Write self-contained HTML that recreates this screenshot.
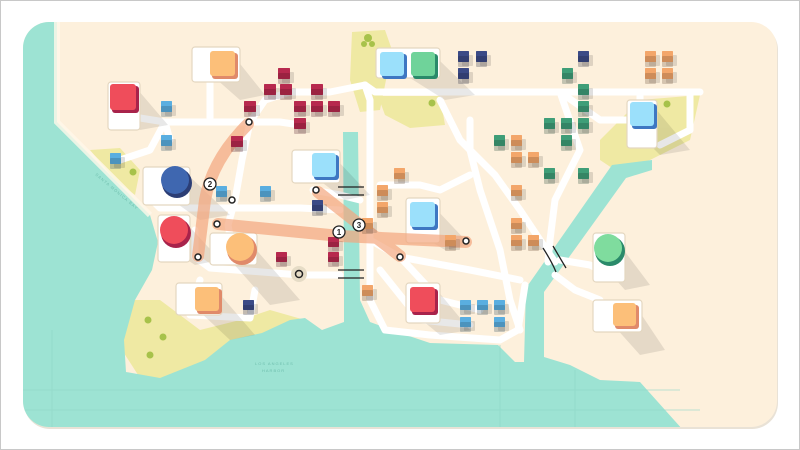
<!DOCTYPE html>
<html><head><meta charset="utf-8"><style>
html,body{margin:0;padding:0;background:#fff}
svg{display:block}
</style></head><body>
<svg width="800" height="450" viewBox="0 0 800 450" xmlns="http://www.w3.org/2000/svg" xmlns:xlink="http://www.w3.org/1999/xlink" font-family="Liberation Sans, sans-serif">
<rect x="0.5" y="0.5" width="799" height="449" fill="#fff" stroke="#c8c8c8"/>
<defs>
<clipPath id="map"><rect x="23" y="22" width="754" height="405" rx="26"/></clipPath>
</defs>
<rect x="24" y="24" width="754" height="405" rx="26" fill="#e9e2d6"/>
<g clip-path="url(#map)">
<rect x="23" y="22" width="754" height="405" fill="#fdf0dc"/>
<g fill="#efe9a3">
<path d="M352,32 L385,30 L392,50 L380,110 L360,112 L350,80 Z"/>
<path d="M378,96 L440,96 L445,125 L410,128 L385,115 Z"/>
<path d="M600,140 L640,100 L700,95 L690,140 L650,160 L615,170 L600,160 Z"/>
<path d="M90,150 L120,148 L140,170 L135,195 L115,180 Z"/>
<path d="M130,300 L160,300 L200,330 L240,320 L270,310 L305,320 L300,345 L260,355 L220,362 L180,380 L140,378 L122,350 Z"/>
</g>
<g fill="#9de3d3">
<path d="M20,20 L57,20 L57,122 L150,215 L158,242 L152,270 L135,300 L124,340 L126,372 L160,378 L205,360 L230,340 L262,333 L290,320 L305,318 L322,330 L344,322 L344,270 L343,132 L358,132 L360,300 L370,322 L400,333 L430,343 L498,345 L515,362 L524,362 L526,288 L612,165 L652,160 L652,170 L626,178 L544,292 L544,357 L570,365 L600,380 L640,382 L683,430 L20,430 Z"/>
</g>
<path d="M57,22 L57,122 L150,215" fill="none" stroke="#fff7ea" stroke-width="6" opacity=".8"/>
<g stroke="#8fd6c6" stroke-width="1" opacity=".6">
<line x1="23" y1="390" x2="680" y2="390"/>
<line x1="23" y1="410" x2="700" y2="410"/>
<line x1="52" y1="330" x2="52" y2="427"/>
<line x1="500" y1="345" x2="500" y2="427"/>
<line x1="575" y1="370" x2="575" y2="427"/>
</g>
<text x="95" y="175" font-size="4" fill="#6fbfae" transform="rotate(40 95 175)" letter-spacing="1">SANTA MONICA BAY</text>
<text x="255" y="365" font-size="4" fill="#6fbfae" letter-spacing="1">LOS ANGELES</text>
<text x="262" y="372" font-size="4" fill="#6fbfae" letter-spacing="1">HARBOR</text>
<g fill="none" stroke="#fff" stroke-width="7" stroke-linecap="round" stroke-linejoin="round">
<path d="M140,118 L165,122 L250,122 L265,100 L290,92 L330,92 L365,85"/>
<path d="M210,82 L210,122"/>
<path d="M250,122 L242,160 L235,200 L228,225 L235,262"/>
<path d="M165,122 L150,150 L120,160"/>
<path d="M165,122 L170,140"/>
<path d="M150,198 L160,208 L300,208 L340,210"/>
<path d="M195,230 L195,257 L210,268 L300,275 L340,275"/>
<path d="M200,280 L190,315 L250,318 L255,290"/>
<path d="M250,122 L280,122 L300,125"/>
<path d="M313,190 L340,195 L360,200"/>
<path d="M365,85 L370,100 L370,300 L385,330 L430,335 L500,340 L518,330 L525,285"/>
<path d="M365,85 L375,92 L560,92 L700,92"/>
<path d="M440,100 L460,140 L495,175 L520,210 L540,240 L555,262"/>
<path d="M470,120 L470,150 L480,190 L500,250 L510,300 L520,330"/>
<path d="M370,240 L400,257 L470,270 L520,280"/>
<path d="M380,270 L420,320 L470,325"/>
<path d="M400,257 L440,300 L480,310"/>
<path d="M560,92 L580,150 L555,200 L550,240 L548,262"/>
<path d="M660,92 L690,92 L690,130 L660,145"/>
<path d="M560,260 L590,265 L600,270"/>
<path d="M555,275 L575,290 L600,300"/>
<path d="M640,100 L640,92"/>
<path d="M560,92 L600,120 L630,120"/>
<path d="M380,185 L420,185 L440,190 L470,175"/>
</g>
<g stroke="#222" stroke-width="1.3" fill="none">
<path d="M338,187 L364,187 M338,195 L364,195"/>
<path d="M338,270 L364,270 M338,278 L364,278"/>
<path d="M543,248 Q552,262 556,272 M553,246 Q560,258 566,268"/>
</g>
<g fill="#000" opacity=".09">
<path d="M237,60 L265,95 L240,100 L215,78 Z"/>
<path d="M138,90 L168,125 L140,130 L115,110 Z"/>
<path d="M188,175 L230,215 L200,220 L165,195 Z"/>
<path d="M188,225 L220,260 L195,265 L165,245 Z"/>
<path d="M252,245 L300,300 L270,305 L232,262 Z"/>
<path d="M218,292 L255,335 L230,340 L200,312 Z"/>
<path d="M337,160 L370,195 L345,200 L315,177 Z"/>
<path d="M437,58 L475,95 L445,100 L410,78 Z"/>
<path d="M437,210 L470,245 L445,250 L412,230 Z"/>
<path d="M437,290 L470,330 L440,335 L412,312 Z"/>
<path d="M655,108 L690,150 L660,155 L632,127 Z"/>
<path d="M620,245 L650,285 L625,290 L600,262 Z"/>
<path d="M637,308 L665,350 L640,355 L615,327 Z"/>
</g>
<g fill="#fff" stroke="#e4d7c0" stroke-width="1.2">
<rect x="192" y="47" width="48" height="35" rx="3"/>
<rect x="108" y="82" width="32" height="48" rx="3"/>
<rect x="143" y="167" width="47" height="38" rx="3"/>
<rect x="158" y="215" width="32" height="47" rx="3"/>
<rect x="210" y="233" width="47" height="32" rx="3"/>
<rect x="176" y="283" width="46" height="32" rx="3"/>
<rect x="292" y="150" width="48" height="33" rx="3"/>
<rect x="376" y="48" width="64" height="30" rx="3"/>
<rect x="406" y="198" width="34" height="45" rx="3"/>
<rect x="406" y="283" width="34" height="40" rx="3"/>
<rect x="627" y="100" width="30" height="48" rx="3"/>
<rect x="593" y="233" width="32" height="49" rx="3"/>
<rect x="593" y="300" width="49" height="32" rx="3"/>
</g>
<rect x="212" y="53" width="26" height="26" rx="3" fill="#e08a6a"/><rect x="210" y="51" width="25" height="25" rx="3" fill="#fcbf79"/>
<rect x="112" y="86" width="27" height="27" rx="3" fill="#a8234b"/><rect x="110" y="84" width="26" height="26" rx="3" fill="#ef4d5b"/>
<circle cx="177" cy="183" r="15" fill="#2c3e75"/><circle cx="175" cy="180" r="14" fill="#3f67b0"/>
<circle cx="176" cy="233" r="15" fill="#a8234b"/><circle cx="174" cy="230" r="14" fill="#ef4d5b"/>
<circle cx="242" cy="250" r="15" fill="#e08a6a"/><circle cx="240" cy="247" r="14" fill="#fcbf79"/>
<rect x="197" y="289" width="25" height="25" rx="3" fill="#e08a6a"/><rect x="195" y="287" width="24" height="24" rx="3" fill="#fcbf79"/>
<rect x="314" y="155" width="25" height="25" rx="3" fill="#3e77c2"/><rect x="312" y="153" width="24" height="24" rx="3" fill="#9be0fb"/>
<rect x="382" y="54" width="25" height="25" rx="3" fill="#3e77c2"/><rect x="380" y="52" width="24" height="24" rx="3" fill="#9be0fb"/>
<rect x="413" y="54" width="25" height="25" rx="3" fill="#2a8a6a"/><rect x="411" y="52" width="24" height="24" rx="3" fill="#6fd39a"/>
<rect x="412" y="204" width="26" height="26" rx="3" fill="#3e77c2"/><rect x="410" y="202" width="25" height="25" rx="3" fill="#9be0fb"/>
<rect x="412" y="289" width="26" height="26" rx="3" fill="#a8234b"/><rect x="410" y="287" width="25" height="25" rx="3" fill="#ef4d5b"/>
<rect x="632" y="104" width="25" height="25" rx="3" fill="#3e77c2"/><rect x="630" y="102" width="24" height="24" rx="3" fill="#9be0fb"/>
<circle cx="610" cy="251" r="15" fill="#2a8a6a"/><circle cx="608" cy="248" r="14" fill="#7fdc9e"/>
<rect x="615" y="305" width="24" height="24" rx="3" fill="#e08a6a"/><rect x="613" y="303" width="23" height="23" rx="3" fill="#fcbf79"/>
<g fill="none" stroke="#f4a77f" stroke-width="12" opacity=".7" stroke-linecap="round">
<path d="M248,124 Q212,160 205,200 L198,256"/>
<path d="M218,224 L340,236 L466,242"/>
<path d="M318,192 L360,225 L400,256"/>
</g>
<g id="houses">
<g fill="#b7294e">
<rect x="278" y="68" width="12" height="11" rx="1"/><rect x="264" y="84" width="12" height="11" rx="1"/><rect x="280" y="84" width="12" height="11" rx="1"/><rect x="311" y="84" width="12" height="11" rx="1"/>
<rect x="244" y="101" width="12" height="11" rx="1"/><rect x="294" y="101" width="12" height="11" rx="1"/><rect x="311" y="101" width="12" height="11" rx="1"/><rect x="328" y="101" width="12" height="11" rx="1"/>
<rect x="294" y="118" width="12" height="11" rx="1"/><rect x="231" y="136" width="12" height="11" rx="1"/>
<rect x="328" y="237" width="11" height="10" rx="1"/><rect x="328" y="252" width="11" height="10" rx="1"/><rect x="276" y="252" width="11" height="10" rx="1"/>
</g>
<g fill="#5aaee0">
<rect x="161" y="101" width="11" height="11" rx="1"/><rect x="161" y="135" width="11" height="11" rx="1"/><rect x="110" y="153" width="11" height="11" rx="1"/>
<rect x="216" y="186" width="11" height="11" rx="1"/><rect x="260" y="186" width="11" height="11" rx="1"/>
<rect x="460" y="300" width="11" height="10" rx="1"/><rect x="477" y="300" width="11" height="10" rx="1"/><rect x="494" y="300" width="11" height="10" rx="1"/>
<rect x="460" y="317" width="11" height="10" rx="1"/><rect x="494" y="317" width="11" height="10" rx="1"/>
</g>
<g fill="#3b4a86">
<rect x="458" y="51" width="11" height="11" rx="1"/><rect x="476" y="51" width="11" height="11" rx="1"/><rect x="458" y="68" width="11" height="11" rx="1"/>
<rect x="578" y="51" width="11" height="11" rx="1"/><rect x="312" y="200" width="11" height="11" rx="1"/><rect x="243" y="300" width="11" height="10" rx="1"/>
</g>
<g fill="#3f9e78">
<rect x="562" y="68" width="11" height="11" rx="1"/><rect x="578" y="84" width="11" height="11" rx="1"/><rect x="578" y="101" width="11" height="11" rx="1"/>
<rect x="544" y="118" width="11" height="11" rx="1"/><rect x="561" y="118" width="11" height="11" rx="1"/><rect x="578" y="118" width="11" height="11" rx="1"/>
<rect x="494" y="135" width="11" height="11" rx="1"/><rect x="561" y="135" width="11" height="11" rx="1"/><rect x="544" y="168" width="11" height="11" rx="1"/><rect x="578" y="168" width="11" height="11" rx="1"/>
</g>
<g fill="#f3a66a">
<rect x="645" y="51" width="11" height="11" rx="1"/><rect x="662" y="51" width="11" height="11" rx="1"/><rect x="645" y="68" width="11" height="11" rx="1"/><rect x="662" y="68" width="11" height="11" rx="1"/>
<rect x="511" y="135" width="11" height="11" rx="1"/><rect x="511" y="152" width="11" height="11" rx="1"/><rect x="528" y="152" width="11" height="11" rx="1"/><rect x="511" y="185" width="11" height="11" rx="1"/>
<rect x="394" y="168" width="11" height="11" rx="1"/><rect x="377" y="185" width="11" height="11" rx="1"/><rect x="377" y="202" width="11" height="11" rx="1"/>
<rect x="511" y="218" width="11" height="11" rx="1"/><rect x="511" y="235" width="11" height="11" rx="1"/><rect x="528" y="235" width="11" height="11" rx="1"/><rect x="445" y="235" width="11" height="11" rx="1"/>
<rect x="362" y="285" width="11" height="11" rx="1"/><rect x="362" y="218" width="11" height="11" rx="1"/>
</g>
</g>
<use xlink:href="#houses" transform="translate(4,4)" opacity=".12" style="filter:brightness(0)"/>
<use xlink:href="#houses"/>
<use xlink:href="#houses" transform="translate(0,5)" opacity=".25" clip-path="none" style="filter:brightness(0.4)"/>
<g fill="#a7c24a"><circle cx="368" cy="38" r="4"/><circle cx="364" cy="44" r="3"/><circle cx="372" cy="44" r="3"/>
<circle cx="133" cy="172" r="3.5"/><circle cx="148" cy="320" r="3.5"/><circle cx="163" cy="337" r="3.5"/><circle cx="150" cy="355" r="3.5"/><circle cx="432" cy="103" r="3.5"/><circle cx="667" cy="104" r="3.5"/></g>
<circle cx="299" cy="274" r="8" fill="#e6dcc6"/><circle cx="299" cy="274" r="3.5" fill="none" stroke="#222" stroke-width="1.5"/>
<g fill="#fff" stroke="#222" stroke-width="1.5">
<circle cx="249" cy="122" r="3"/><circle cx="232" cy="200" r="3"/><circle cx="217" cy="224" r="3"/><circle cx="198" cy="257" r="3"/>
<circle cx="316" cy="190" r="3"/><circle cx="400" cy="257" r="3"/><circle cx="466" cy="241" r="3"/>
</g>
<g font-size="8" font-weight="bold" text-anchor="middle" fill="#222">
<circle cx="210" cy="184" r="6" fill="#fff" stroke="#222" stroke-width="1.3"/><text x="210" y="187">2</text>
<circle cx="339" cy="232" r="6" fill="#fff" stroke="#222" stroke-width="1.3"/><text x="339" y="235">1</text>
<circle cx="359" cy="225" r="6" fill="#fff" stroke="#222" stroke-width="1.3"/><text x="359" y="228">3</text>
</g>
</g>
</svg>
</body></html>
